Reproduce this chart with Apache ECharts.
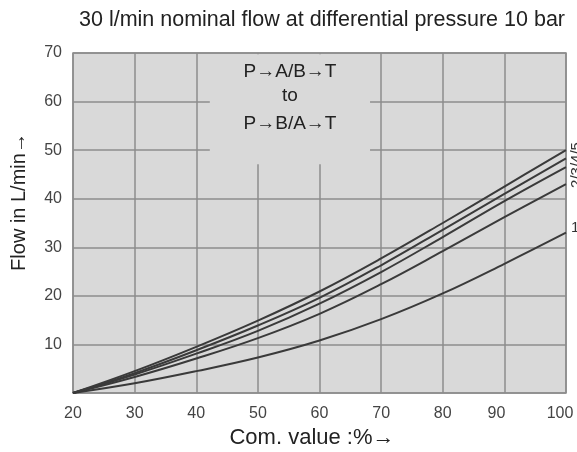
<!DOCTYPE html>
<html>
<head>
<meta charset="utf-8">
<script src="https://cdn.jsdelivr.net/npm/echarts@6/dist/echarts.min.js"></script>
<style>
html, body { margin: 0; padding: 0; background: #fff; }
#chart { width: 577px; height: 452px; }
</style>
</head>
<body>
<div id="chart"></div>
<script>
// command value in %
var comValues = [20, 30, 40, 50, 60, 70, 80, 90, 100];
// flow in L/min, curves 1..5 (bottom to top)
var curve1 = [0, 2.0, 4.5, 7.3, 10.8, 15.2, 20.5, 26.6, 33.0];
var curve2 = [0, 3.3, 7.1, 11.3, 16.3, 22.4, 29.2, 36.2, 43.0];
var curve3 = [0, 3.8, 8.1, 12.8, 18.4, 24.9, 32.1, 39.5, 46.5];
var curve4 = [0, 4.1, 8.8, 13.9, 19.6, 26.3, 33.6, 41.0, 48.3];
var curve5 = [0, 4.5, 9.5, 14.9, 20.9, 27.7, 35.0, 42.5, 50.0];
var curveNames = ['1', '2', '3', '4', '5'];
var boxLines = ['P→A/B→T', 'to', 'P→B/A→T'];

var plotBg = '#d9d9d9';
var gridColor = '#8c8c8c';
var lineColor = '#3a3a3a';
var font = 'Liberation Sans, Arial, sans-serif';

function pairs(ys) {
    return comValues.map(function (x, i) { return [x, ys[i]]; });
}

var chart = echarts.init(document.getElementById('chart'));

var series = [curve1, curve2, curve3, curve4, curve5].map(function (ys, i) {
    return {
        name: curveNames[i],
        type: 'line',
        smooth: 0.4,
        showSymbol: false,
        silent: true,
        lineStyle: { color: lineColor, width: 2 },
        data: pairs(ys)
    };
});

// the label box hides the grid lines behind it
series[0].markArea = {
    silent: true,
    itemStyle: { color: plotBg },
    data: [[{ coord: [42.2, 47.1] }, { coord: [68.2, 69.75] }]]
};

var option = {
    animation: false,
    grid: {
        left: 73, right: 11, top: 53, bottom: 59,
        outerBoundsMode: 'none',
        show: true,
        backgroundColor: plotBg,
        borderColor: gridColor,
        borderWidth: 1.5
    },
    xAxis: {
        type: 'value',
        min: 20, max: 100, interval: 10,
        axisLine: { show: false },
        axisTick: { show: false },
        axisLabel: {
            color: '#444', fontSize: 16, fontFamily: font, margin: 13,
            // the last labels sit a little left of their grid lines
            formatter: function (v) {
                if (v === 90) return '{l8|90}';
                if (v === 100) return '{l6|100}';
                return v;
            },
            rich: {
                l8: { fontSize: 16, fontFamily: font, color: '#444', padding: [0, 16, 0, 0] },
                l6: { fontSize: 16, fontFamily: font, color: '#444', padding: [0, 12, 0, 0] }
            }
        },
        splitLine: { lineStyle: { color: gridColor, width: 1.5 } }
    },
    yAxis: {
        type: 'value',
        min: 0, max: 70, interval: 10,
        axisLine: { show: false },
        axisTick: { show: false },
        axisLabel: {
            color: '#444', fontSize: 16, fontFamily: font, margin: 11,
            formatter: function (v) { return v === 0 ? '' : v; }
        },
        splitLine: { lineStyle: { color: gridColor, width: 1.5 } }
    },
    series: series,
    graphic: [
        {
            type: 'text', x: 322, y: 20, z: 100,
            style: { text: '30 l/min nominal flow at differential pressure 10 bar', fill: '#222', font: '21.5px ' + font, align: 'center', verticalAlign: 'middle' }
        },
        {
            type: 'text', x: 312, y: 438, z: 100,
            style: { text: 'Com. value :%→', fill: '#222', font: '22px ' + font, align: 'center', verticalAlign: 'middle' }
        },
        {
            type: 'text', x: 19, y: 202, rotation: Math.PI / 2, z: 100,
            style: { text: 'Flow in L/min→', fill: '#222', font: '20px ' + font, align: 'center', verticalAlign: 'middle' }
        },
        {
            type: 'text', x: 290, y: 72, z: 100,
            style: { text: boxLines[0], fill: '#222', font: '19px ' + font, align: 'center', verticalAlign: 'middle' }
        },
        {
            type: 'text', x: 290, y: 96, z: 100,
            style: { text: boxLines[1], fill: '#222', font: '19px ' + font, align: 'center', verticalAlign: 'middle' }
        },
        {
            type: 'text', x: 290, y: 124, z: 100,
            style: { text: boxLines[2], fill: '#222', font: '19px ' + font, align: 'center', verticalAlign: 'middle' }
        },
        {
            type: 'text', x: 577, y: 165, rotation: Math.PI / 2, z: 100,
            style: { text: curveNames.slice(1).join('/'), fill: '#333', font: '15px ' + font, align: 'center', verticalAlign: 'middle' }
        },
        {
            type: 'text', x: 571, y: 228, z: 100,
            style: { text: curveNames[0], fill: '#333', font: '15px ' + font, align: 'left', verticalAlign: 'middle' }
        }
    ]
};

chart.setOption(option);
</script>
</body>
</html>
